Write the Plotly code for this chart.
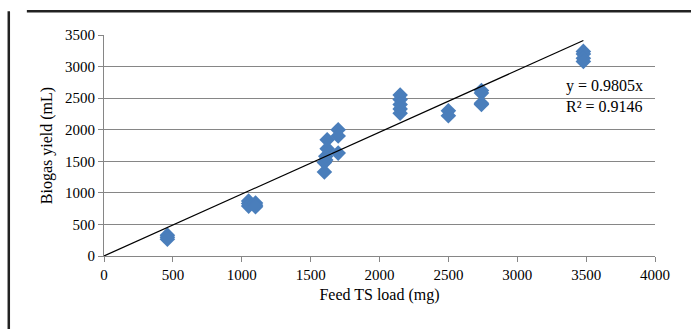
import plotly.graph_objects as go

feed_ts = [460, 460, 460,
           1050, 1050, 1050, 1100, 1100, 1100,
           1600, 1600, 1610, 1610, 1620, 1620,
           1700, 1700, 1700,
           2150, 2150, 2150, 2150, 2150,
           2500, 2500,
           2740, 2740, 2740, 2740,
           3480, 3480, 3480, 3480]
biogas = [330, 295, 265,
          870, 830, 790, 840, 805, 780,
          1330, 1480, 1520, 1580, 1700, 1840,
          2000, 1900, 1630,
          2550, 2480, 2400, 2330, 2260,
          2300, 2220,
          2620, 2580, 2420, 2400,
          3240, 3200, 3130, 3080]
slope = 0.9805
r2 = 0.9146
trend_x = [0, 3480]
trend_y = [slope * v for v in trend_x]

x_ticks = [0, 500, 1000, 1500, 2000, 2500, 3000, 3500, 4000]
y_ticks = [0, 500, 1000, 1500, 2000, 2500, 3000, 3500]

font = "Liberation Serif"

fig = go.Figure()
fig.add_trace(go.Scatter(x=feed_ts, y=biogas, mode="markers",
                         marker=dict(symbol="diamond", size=12, color="#4A7EBB",
                                     line=dict(width=0)),
                         showlegend=False))
fig.add_trace(go.Scatter(x=trend_x, y=trend_y, mode="lines",
                         line=dict(color="black", width=1.2), showlegend=False))

fig.add_annotation(x=3340, y=2690, xref="x", yref="y",
                   text=f"y = {slope}x", showarrow=False, xanchor="left",
                   font=dict(family=font, size=16, color="black"))
fig.add_annotation(x=3340, y=2370, xref="x", yref="y",
                   text=f"R² = {r2}", showarrow=False, xanchor="left",
                   font=dict(family=font, size=16, color="black"))

# outer frame (top and left edges)
fig.add_shape(type="line", xref="paper", yref="paper", x0=-0.14, x1=1.1, y0=1.108, y1=1.108,
              line=dict(color="#222", width=2.5))
fig.add_shape(type="line", xref="paper", yref="paper", x0=-0.1728, x1=-0.1728, y0=1.108, y1=-0.4,
              line=dict(color="#222", width=2.5))

fig.update_layout(
    width=691, height=329,
    margin=dict(l=104, r=36, t=35, b=73),
    plot_bgcolor="white", paper_bgcolor="white",
    font=dict(family=font, size=14, color="black"),
    xaxis=dict(range=[0, 4000], tickvals=x_ticks, showgrid=False, zeroline=False,
               showline=True, linecolor="#868686", linewidth=1, ticks="outside",
               tickcolor="#868686", ticklen=5,
               tickfont=dict(family=font, size=15, color="black"),
               title=dict(text="Feed TS load (mg)", font=dict(family=font, size=16, color="black"), standoff=6)),
    yaxis=dict(range=[0, 3500], tickvals=y_ticks, showgrid=True, gridcolor="#868686",
               gridwidth=1, zeroline=False, showline=True, linecolor="#868686",
               linewidth=1, ticks="outside", tickcolor="#868686", ticklen=5,
               tickfont=dict(family=font, size=15, color="black"),
               title=dict(text="Biogas yield (mL)", font=dict(family=font, size=16, color="black"), standoff=8)),
)
fig.write_html("out.html")
